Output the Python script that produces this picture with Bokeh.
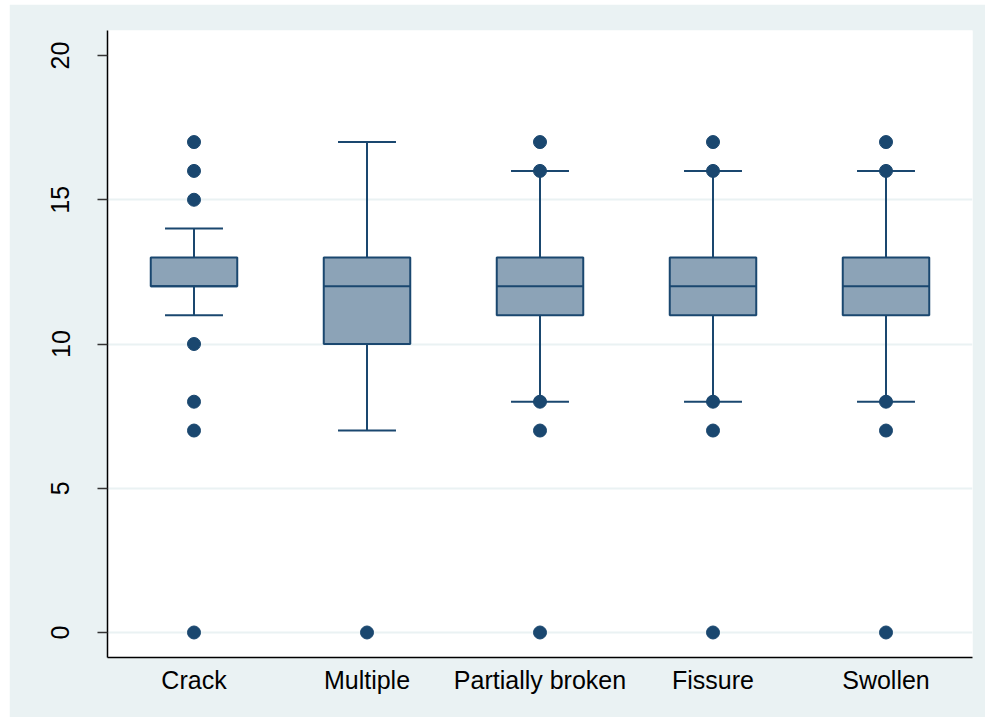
from bokeh.plotting import figure
from bokeh.models import ColumnDataSource, FactorRange, Range1d, FixedTicker
from bokeh.transform import dodge
from bokeh.embed import file_html
from bokeh.resources import INLINE

# ---- data ----
categories = ["Crack", "Multiple", "Partially broken", "Fissure", "Swollen"]
q1 = [12, 10, 11, 11, 11]
median = [12, 12, 12, 12, 12]
q3 = [13, 13, 13, 13, 13]
lower_whisker = [11, 7, 8, 8, 8]
upper_whisker = [14, 17, 16, 16, 16]

outlier_cat = (["Crack"] * 7 + ["Multiple"] +
               ["Partially broken"] * 5 + ["Fissure"] * 5 + ["Swollen"] * 5)
outlier_val = ([17, 16, 15, 10, 8, 7, 0] + [0] +
               [17, 16, 8, 7, 0] + [17, 16, 8, 7, 0] + [17, 16, 8, 7, 0])

y_ticks = [0, 5, 10, 15, 20]

# ---- styles ----
NAVY = "#1A476F"
BOXFILL = "#8CA3B7"
BG = "#EAF2F3"
GRID = "#EAF2F3"
FONT = "Liberation Sans"

p = figure(x_range=FactorRange(*categories, range_padding=0),
           y_range=Range1d(-0.867, 20.867),
           width=976, height=713, output_backend="svg", toolbar_location=None,
           min_border_left=98, min_border_top=26, min_border_right=13,
           min_border_bottom=60)
p.margin = (4, 0, 0, 9)

p.border_fill_color = BG
p.background_fill_color = "white"
p.outline_line_color = None

src = ColumnDataSource(dict(cat=categories, q1=q1, med=median, q3=q3,
                            lo=lower_whisker, hi=upper_whisker))

# whiskers
p.segment(x0="cat", y0="q3", x1="cat", y1="hi", source=src,
          line_color=NAVY, line_width=2)
p.segment(x0="cat", y0="q1", x1="cat", y1="lo", source=src,
          line_color=NAVY, line_width=2)
# caps
cw = 0.335 / 2
p.segment(x0=dodge("cat", -cw, range=p.x_range), y0="hi",
          x1=dodge("cat", cw, range=p.x_range), y1="hi", source=src,
          line_color=NAVY, line_width=2)
p.segment(x0=dodge("cat", -cw, range=p.x_range), y0="lo",
          x1=dodge("cat", cw, range=p.x_range), y1="lo", source=src,
          line_color=NAVY, line_width=2)
# boxes
p.vbar(x="cat", width=0.5, bottom="q1", top="q3", source=src,
       fill_color=BOXFILL, line_color=NAVY, line_width=2)
# medians
bw = 0.5 / 2
p.segment(x0=dodge("cat", -bw, range=p.x_range), y0="med",
          x1=dodge("cat", bw, range=p.x_range), y1="med", source=src,
          line_color=NAVY, line_width=2)
# outliers
p.scatter(x=outlier_cat, y=outlier_val, marker="circle", size=13,
          fill_color=NAVY, line_color=NAVY)

# grid
p.xgrid.grid_line_color = None
p.ygrid.ticker = FixedTicker(ticks=[0, 5, 10, 15])
p.ygrid.grid_line_color = GRID
p.ygrid.grid_line_width = 2

# y axis
p.yaxis.ticker = FixedTicker(ticks=y_ticks)
p.yaxis.major_label_orientation = "vertical"
p.yaxis.major_label_text_font = FONT
p.yaxis.major_label_text_font_size = "25px"
p.yaxis.major_label_text_color = "black"
p.yaxis.major_label_standoff = 28
p.yaxis.major_tick_out = 10
p.yaxis.major_tick_in = 0
p.yaxis.major_tick_line_color = "#333333"
p.yaxis.major_tick_line_width = 1.5
p.yaxis.minor_tick_line_color = None
p.yaxis.axis_line_color = "black"
p.yaxis.axis_line_width = 1.5

# x axis
p.xaxis.major_label_text_font = FONT
p.xaxis.major_label_text_font_size = "25px"
p.xaxis.major_label_text_color = "black"
p.xaxis.major_tick_line_color = None
p.xaxis.major_tick_out = 0
p.xaxis.major_tick_in = 0
p.xaxis.major_label_standoff = 8
p.xaxis.axis_line_color = "black"
p.xaxis.axis_line_width = 1.5

open("out.html", "w").write(file_html(p, INLINE))
